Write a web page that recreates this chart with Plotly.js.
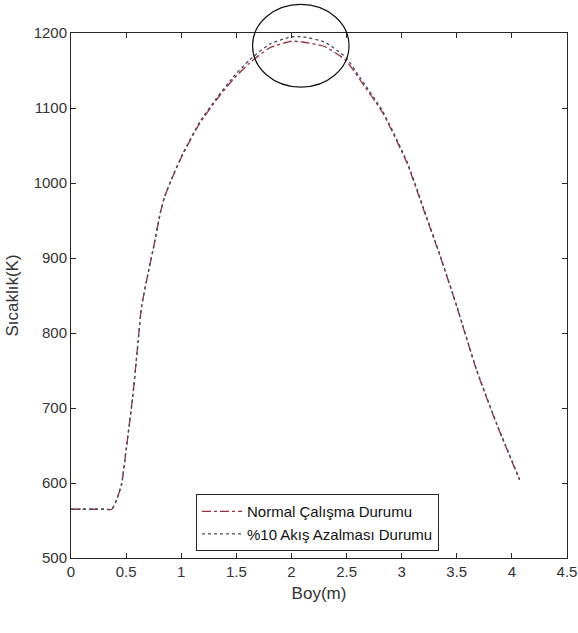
<!DOCTYPE html>
<html>
<head>
<meta charset="utf-8">
<script src="https://cdn.plot.ly/plotly-3.0.1.min.js"></script>
<style>html,body{margin:0;padding:0;background:#fff;}#chart{width:578px;height:633px;}</style>
</head>
<body>
<div id="chart"></div>
<script>
var xNormal = [0, 0.1, 0.2, 0.3, 0.37, 0.42, 0.46, 0.5, 0.56, 0.6, 0.64, 0.7, 0.75, 0.81, 0.85, 0.91, 1.02, 1.17, 1.32, 1.47, 1.62, 1.8, 2.0, 2.1, 2.3, 2.49, 2.62, 2.83, 3.05, 3.2, 3.35, 3.5, 3.68, 3.86, 4.07];
var yNormal = [565, 565, 565, 565, 565, 580, 599, 644, 715, 775, 835, 880, 915, 960, 982, 1004, 1040, 1080, 1111, 1138, 1160, 1180, 1189, 1188, 1182, 1164, 1138, 1093, 1026, 964, 902, 835, 750, 679, 604];
var xReduced = xNormal;
var yReduced = [565, 565, 565, 565, 565, 580, 599, 644, 715, 775, 835, 880, 915, 960, 982, 1005, 1041, 1082, 1113, 1141, 1164, 1185, 1195, 1195, 1188, 1168, 1141, 1095, 1028, 966, 903, 836, 751, 680, 605];
var seriesNames = ['Normal Çalışma Durumu', '%10 Akış Azalması Durumu'];
var xTicks = [0, 0.5, 1, 1.5, 2, 2.5, 3, 3.5, 4, 4.5];
var yTicks = [500, 600, 700, 800, 900, 1000, 1100, 1200];

var font = 'Liberation Sans, Arial, sans-serif';
var narrow = 'Liberation Sans Narrow, Arial Narrow, Liberation Sans, sans-serif';
var traces = [
  {x: xNormal, y: yNormal, mode: 'lines', name: seriesNames[0],
   line: {color: '#9c2f3c', width: 1.3, dash: 'dashdot', shape: 'spline', smoothing: 0.5}},
  {x: xReduced, y: yReduced, mode: 'lines', name: seriesNames[1],
   line: {color: '#4a4a66', width: 1.3, dash: 'dot', shape: 'spline', smoothing: 0.5}}
];
var axisCommon = {
  showgrid: false, zeroline: false, showline: true, linecolor: '#262626', linewidth: 1,
  mirror: 'ticks', ticks: 'inside', ticklen: 5, tickcolor: '#262626',
  tickfont: {family: font, size: 15, color: '#333'}
};
var layout = {
  width: 578, height: 633,
  margin: {l: 71, r: 11, t: 33, b: 75},
  paper_bgcolor: '#fff', plot_bgcolor: '#fff',
  showlegend: true,
  legend: {x: 0.252, y: 0.1215, xanchor: 'left', yanchor: 'top',
    bordercolor: '#262626', borderwidth: 1, bgcolor: '#fff', itemwidth: 40,
    font: {family: narrow, size: 15, color: '#111'}, tracegroupgap: 0},
  xaxis: Object.assign({}, axisCommon, {range: [0, 4.5], tickvals: xTicks,
    ticktext: xTicks.map(String),
    title: {text: 'Boy(m)', font: {family: font, size: 17, color: '#333'}, standoff: 8}}),
  yaxis: Object.assign({}, axisCommon, {range: [500, 1200], tickvals: yTicks,
    title: {text: 'Sıcaklık(K)', font: {family: font, size: 17, color: '#333'}, standoff: 10}}),
  shapes: [{type: 'circle', xref: 'paper', yref: 'paper',
    x0: 0.366, x1: 0.5605, y0: 0.897, y1: 1.0545,
    line: {color: '#111', width: 1.2}}]
};
Plotly.newPlot('chart', traces, layout, {staticPlot: true, displayModeBar: false});
</script>
</body>
</html>
